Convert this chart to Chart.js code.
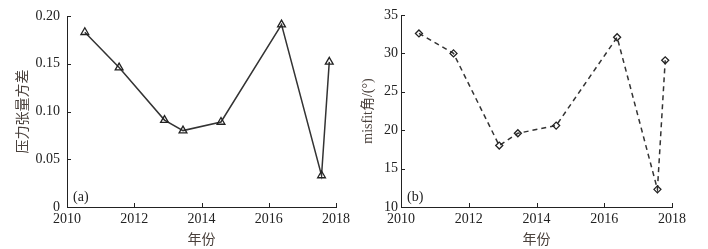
<!DOCTYPE html>
<html>
<head>
<meta charset="utf-8">
<script src="https://cdn.jsdelivr.net/npm/chart.js@4.4.1/dist/chart.umd.min.js"></script>
<style>
  html, body { margin: 0; padding: 0; background: #fff; }
  .wrap { display: flex; width: 708px; height: 249px; }
  .box { position: relative; width: 354px; height: 249px; }
</style>
</head>
<body>
<div class="wrap">
  <div class="box"><canvas id="chartA"></canvas></div>
  <div class="box"><canvas id="chartB"></canvas></div>
</div>
<script>
// ── data ──
const years = [2010.53, 2011.55, 2012.9, 2013.45, 2014.58, 2016.38, 2017.57, 2017.8];
const stressVariance = [0.183, 0.146, 0.091, 0.080, 0.089, 0.191, 0.033, 0.152];
const misfitAngle = [32.6, 30.0, 18.0, 19.6, 20.6, 32.1, 12.3, 29.1];
const xTicks = [2010, 2012, 2014, 2016, 2018];

const SERIF = '"Liberation Serif", "Times New Roman", "Noto Sans CJK SC", serif';
const INK = '#222';
const TITLE_INK = '#4a413c';

// inward tick marks + panel tag
const innerTicks = {
  id: 'innerTicks',
  afterDraw(chart, args, opts) {
    const ctx = chart.ctx, area = chart.chartArea;
    const xs = chart.scales.x, ys = chart.scales.y;
    ctx.save();
    ctx.strokeStyle = INK;
    ctx.lineWidth = 1;
    ctx.beginPath();
    xs.ticks.forEach((t, i) => {
      const px = Math.round(xs.getPixelForTick(i)) + 0.5;
      ctx.moveTo(px, area.bottom);
      ctx.lineTo(px, area.bottom - 4);
    });
    ys.ticks.forEach((t, i) => {
      const py = Math.round(ys.getPixelForTick(i)) + 0.5;
      ctx.moveTo(area.left, py);
      ctx.lineTo(area.left + 4, py);
    });
    ctx.stroke();
    ctx.fillStyle = INK;
    ctx.font = '14px ' + SERIF;
    ctx.textAlign = 'left';
    ctx.textBaseline = 'bottom';
    ctx.fillText(opts.tag, area.left + 6, area.bottom - 3);
    ctx.restore();
  }
};

function makePanel(id, values, opt) {
  return new Chart(document.getElementById(id).getContext('2d'), {
    type: 'line',
    data: {
      datasets: [{
        data: years.map((x, i) => ({ x: x, y: values[i] })),
        borderColor: '#333',
        borderWidth: 1.5,
        borderDash: opt.dash,
        pointStyle: opt.pointStyle,
        pointRadius: opt.pointRadius,
        pointBorderWidth: 1.3,
        pointBorderColor: '#222',
        pointBackgroundColor: opt.pointFill,
        tension: 0
      }]
    },
    options: {
      responsive: false,
      animation: false,
      layout: { padding: opt.padding },
      plugins: { legend: { display: false }, tooltip: { enabled: false }, innerTicks: { tag: opt.tag } },
      scales: {
        x: {
          type: 'linear', min: 2010, max: 2018,
          afterBuildTicks: s => { s.ticks = xTicks.map(v => ({ value: v })); },
          grid: { display: true, drawOnChartArea: false, drawTicks: false },
          border: { color: INK, width: 1 },
          ticks: { color: INK, font: { family: SERIF, size: 14 }, padding: 4, maxRotation: 0, callback: v => String(v) },
          title: { display: true, text: '年份', color: TITLE_INK, font: { family: SERIF, size: 14 }, padding: { top: 0, bottom: 0 } },
          afterFit: s => { s.height = 42; }
        },
        y: {
          min: opt.yMin, max: opt.yMax,
          ticks: { stepSize: opt.yStep, color: INK, font: { family: SERIF, size: 14 }, padding: opt.yPad, callback: opt.yFmt },
          grid: { display: true, drawOnChartArea: false, drawTicks: false },
          border: { color: INK, width: 1 },
          title: { display: true, text: opt.yTitle, color: TITLE_INK, font: { family: SERIF, size: 14 }, padding: { top: opt.yTitleShift, bottom: 4 } },
          afterFit: s => { s.width = opt.yWidth; }
        }
      }
    },
    plugins: [innerTicks]
  });
}

document.getElementById('chartA').width = 354;
document.getElementById('chartA').height = 249;
document.getElementById('chartB').width = 354;
document.getElementById('chartB').height = 249;

makePanel('chartA', stressVariance, {
  tag: '(a)', dash: [], pointStyle: 'triangle', pointRadius: 4.5, pointFill: 'rgba(255,255,255,0)',
  yMin: 0, yMax: 0.2, yStep: 0.05, yFmt: v => (v === 0 ? '0' : v.toFixed(2)),
  yTitle: '压力张量方差', yWidth: 67, yPad: 7, yTitleShift: 15,
  padding: { left: 0, right: 15, top: 16, bottom: 0 }
});
makePanel('chartB', misfitAngle, {
  tag: '(b)', dash: [5, 4], pointStyle: 'rectRot', pointRadius: 3.5, pointFill: 'rgba(255,255,255,0)',
  yMin: 10, yMax: 35, yStep: 5, yFmt: v => String(v),
  yTitle: 'misfit角/(°)', yWidth: 47, yPad: 3, yTitleShift: 6,
  padding: { left: 0, right: 36, top: 15, bottom: 0 }
});
</script>
</body>
</html>
